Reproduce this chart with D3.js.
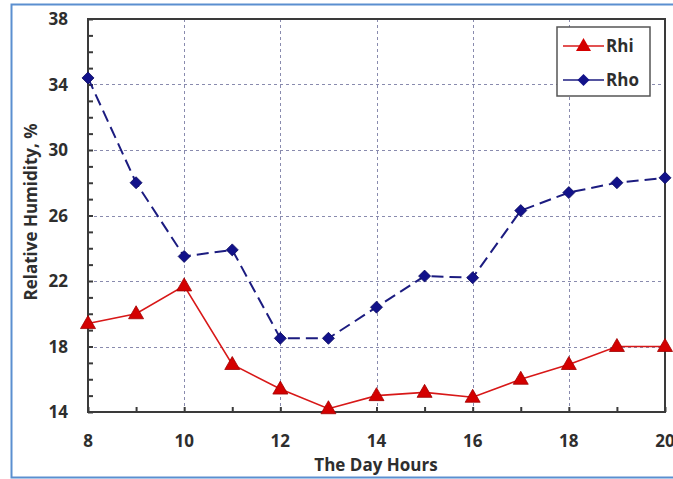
<!DOCTYPE html>
<html>
<head>
<meta charset="utf-8">
<script src="https://cdn.jsdelivr.net/npm/d3@7/dist/d3.min.js"></script>
<style>
  html, body { margin: 0; padding: 0; background: #ffffff; }
  svg { display: block; }
  text { font-family: "Open Sans", Lato, "Liberation Sans", sans-serif; font-weight: bold; fill: #2e2e2e; }
</style>
</head>
<body>
<svg id="chart" width="673" height="479"></svg>
<script>
// Hourly relative humidity, inside (Rhi) and outside (Rho)
const hours = [8, 9, 10, 11, 12, 13, 14, 15, 16, 17, 18, 19, 20];
const rhi = [19.4, 20.0, 21.7, 16.9, 15.4, 14.2, 15.0, 15.2, 14.9, 16.0, 16.9, 18.0, 18.0];
const rho = [34.4, 28.0, 23.5, 23.9, 18.5, 18.5, 20.4, 22.3, 22.2, 26.3, 27.4, 28.0, 28.3];
const xTicks = [8, 10, 12, 14, 16, 18, 20];
const yTicks = [14, 18, 22, 26, 30, 34, 38];
const seriesNames = ["Rhi", "Rho"];

const svg = d3.select("#chart");
const W = 673, H = 479;
const plotL = 88, plotR = 665, plotT = 19, plotB = 412;
const fontSize = 17;

// outer frame
svg.append("path")
  .attr("d", `M${W + 2},4.5 H11.5 V477.5 H${W + 2}`)
  .attr("fill", "none").attr("stroke", "#5b8fd0").attr("stroke-width", 2);

const x = d3.scaleLinear().domain([8, 20]).range([plotL, plotR]);
const y = d3.scaleLinear().domain([14, 38]).range([plotB, plotT]);

// grid
const grid = svg.append("g").attr("stroke", "#7d7fa6").attr("stroke-width", 1)
  .attr("stroke-dasharray", "3,3").attr("opacity", 0.9);
grid.selectAll("line.v").data(xTicks.slice(1, -1)).join("line")
  .attr("x1", d => Math.round(x(d)) + 0.5).attr("x2", d => Math.round(x(d)) + 0.5)
  .attr("y1", plotT).attr("y2", plotB);
grid.selectAll("line.h").data(yTicks.slice(1, -1)).join("line")
  .attr("y1", d => Math.round(y(d)) + 0.5).attr("y2", d => Math.round(y(d)) + 0.5)
  .attr("x1", plotL).attr("x2", plotR);

// axes with inward minor ticks
const yAxis = d3.axisLeft(y).tickValues(d3.range(14, 39, 1)).tickSize(-5).tickFormat("");
const xAxis = d3.axisBottom(x).tickValues(d3.range(8, 21, 1)).tickSize(-5).tickFormat("");
const ya = svg.append("g").attr("transform", `translate(${plotL},0)`).call(yAxis);
const xa = svg.append("g").attr("transform", `translate(0,${plotB})`).call(xAxis);
[ya, xa].forEach(g => {
  g.select(".domain").remove();
  g.selectAll(".tick line").attr("stroke", "#3a3a3a").attr("stroke-width", 2);
});

// tick labels
svg.append("g").selectAll("text").data(yTicks).join("text")
  .attr("x", 68).attr("y", d => y(d)).attr("dy", "0.36em")
  .attr("text-anchor", "end").attr("font-size", fontSize).text(d => d);
svg.append("g").selectAll("text").data(xTicks).join("text")
  .attr("x", d => x(d)).attr("y", 447)
  .attr("text-anchor", "middle").attr("font-size", fontSize).text(d => d);

// axis titles
svg.append("text").attr("x", 376).attr("y", 471).attr("text-anchor", "middle")
  .attr("font-size", fontSize).text("The Day Hours");
svg.append("text").attr("transform", "translate(37,212) rotate(-90)")
  .attr("text-anchor", "middle").attr("font-size", fontSize).text("Relative Humidity, %");

// plot frame
svg.append("rect").attr("x", plotL).attr("y", plotT).attr("width", plotR - plotL).attr("height", plotB - plotT)
  .attr("fill", "none").attr("stroke", "#3a3a3a").attr("stroke-width", 2);

const line = d3.line().x((d, i) => x(hours[i])).y(d => y(d));

// marker shapes: upright triangle and a square turned on its corner
const triangleShape = { draw(ctx) { ctx.moveTo(0, -8); ctx.lineTo(7.5, 5); ctx.lineTo(-7.5, 5); ctx.closePath(); } };
const diamondShape = { draw(ctx) { ctx.moveTo(0, -6); ctx.lineTo(6, 0); ctx.lineTo(0, 6); ctx.lineTo(-6, 0); ctx.closePath(); } };
const triangle = d3.symbol().type(triangleShape);
const diamond = d3.symbol().type(diamondShape);

// Rho: dashed navy with diamonds
svg.append("path").datum(rho).attr("d", line).attr("fill", "none")
  .attr("stroke", "#1c1c80").attr("stroke-width", 2).attr("stroke-dasharray", "12,6");
svg.append("g").selectAll("path").data(rho).join("path")
  .attr("d", diamond).attr("transform", (d, i) => `translate(${x(hours[i])},${y(d)})`)
  .attr("fill", "#12128a").attr("stroke", "#0a0a60").attr("stroke-width", 0.8);

// Rhi: solid red with triangles
svg.append("path").datum(rhi).attr("d", line).attr("fill", "none")
  .attr("stroke", "#d81818").attr("stroke-width", 1.6);
svg.append("g").selectAll("path").data(rhi).join("path")
  .attr("d", triangle).attr("transform", (d, i) => `translate(${x(hours[i])},${y(d)})`)
  .attr("fill", "#d40000").attr("stroke", "#a00000").attr("stroke-width", 0.8);

// legend
const lg = svg.append("g");
lg.append("rect").attr("x", 557).attr("y", 27).attr("width", 93).attr("height", 69)
  .attr("fill", "#ffffff").attr("stroke", "#555555").attr("stroke-width", 1.5);
const legendItems = [
  { name: seriesNames[0], color: "#d81818", sym: triangle, fill: "#d40000", yy: 46 },
  { name: seriesNames[1], color: "#1c1c80", sym: diamond, fill: "#12128a", yy: 80 }
];
legendItems.forEach(it => {
  lg.append("line").attr("x1", 563).attr("x2", 604).attr("y1", it.yy).attr("y2", it.yy)
    .attr("stroke", it.color).attr("stroke-width", 1.6);
  lg.append("path").attr("d", it.sym).attr("transform", `translate(583.5,${it.yy})`)
    .attr("fill", it.fill);
  lg.append("text").attr("x", 606).attr("y", it.yy).attr("dy", "0.36em")
    .attr("font-size", fontSize).text(it.name);
});
</script>
</body>
</html>
